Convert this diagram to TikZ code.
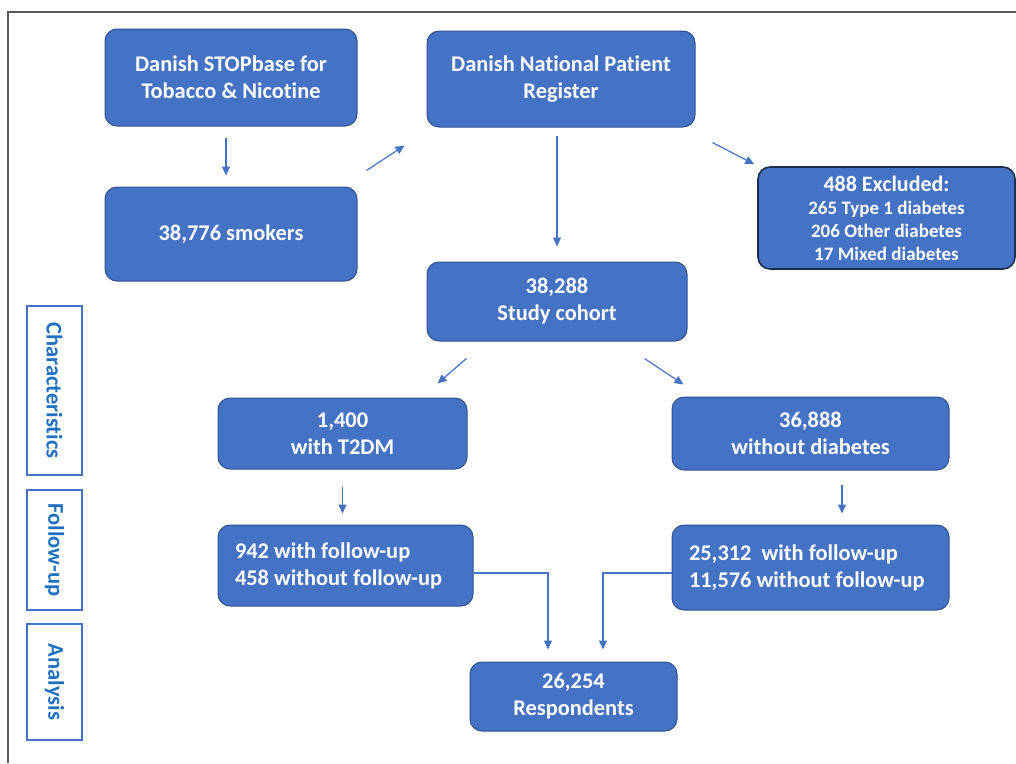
\documentclass[tikz,border=0pt]{standalone}
\usepackage{fontspec}
\setmainfont[Ligatures=NoCommon]{Carlito}
\usepackage{tikz}
\usetikzlibrary{positioning, arrows.meta, calc}
\definecolor{boxblue}{RGB}{68,114,196}
\definecolor{boxedge}{RGB}{47,82,143}
\definecolor{exedge}{RGB}{31,45,79}
\definecolor{phasetext}{RGB}{31,112,192}
\definecolor{framegray}{RGB}{89,89,89}
\tikzset{
  % --- flow chart boxes (blue, white bold text) ---
  flowbox/.style={
    draw=boxedge, fill=boxblue, text=white, rounded corners=12pt,
    font=\bfseries\fontsize{22.4}{27}\selectfont, align=center,
    inner sep=4pt, line width=1pt,
  },
  exclbox/.style={flowbox, draw=exedge, line width=1.6pt,
    font=\bfseries\fontsize{19}{23}\selectfont},
  % --- phase labels on the left (rotated text) ---
  phasebox/.style={draw=boxblue, fill=white, text=phasetext, rotate=-90,
    font=\bfseries\fontsize{22.5}{24}\selectfont, minimum height=55pt,
    inner sep=2pt, line width=1.2pt},
  % --- connectors ---
  flow/.style={-{Triangle[length=9pt, width=8pt]}, draw=boxblue, line width=1.2pt},
  frameline/.style={draw=framegray, line width=1.2pt},
}

\begin{document}
\begin{tikzpicture}[x=1pt, y=-1pt]
    \useasboundingbox (0,0) rectangle (1016,763);
    % ---- Frame (top and left only) ----
    \draw[frameline] (8,763) -- (8,12) -- (1016,12);

    % ---- Sources ----
    \node[flowbox, minimum width=252pt, minimum height=97pt] (stop) at (231,77.5)
      {Danish STOPbase for\\Tobacco \& Nicotine};
    \node[flowbox, minimum width=252pt, minimum height=94pt] (smokers) at (231,234)
      {38,776 smokers};
    \node[flowbox, minimum width=268pt, minimum height=96pt] (npr) at (561,79)
      {Danish National Patient\\Register};
    \node[exclbox, minimum width=257pt, minimum height=102pt] (excl) at (886.5,218)
      {{\fontsize{22}{25}\selectfont 488 Excluded:}\\265 Type 1 diabetes\\206 Other diabetes\\17 Mixed diabetes};

    % ---- Cohort and its two arms ----
    \node[flowbox, minimum width=260pt, minimum height=79pt] (cohort) at (557,301.5)
      {38,288\\Study cohort};
    \node[flowbox, minimum width=249pt, minimum height=71pt] (t2dm) at (342.5,433.5)
      {1,400\\with T2DM};
    \node[flowbox, minimum width=277pt, minimum height=73pt] (nodiab) at (810.5,433.5)
      {36,888\\without diabetes};
    \node[flowbox, align=flush left, text width=221pt, minimum width=255pt, minimum height=81pt] (fut2) at (345.5,565.5)
      {942 with follow-up\\458 without follow-up};
    \node[flowbox, align=flush left, text width=243pt, minimum width=277pt, minimum height=85pt] (funo) at (810.5,567.5)
      {25,312\ \ with follow-up\\11,576 without follow-up};
    \node[flowbox, minimum width=207pt, minimum height=69pt] (resp) at (573.5,696.5)
      {26,254\\Respondents};

    % ---- Phase labels ----
    \node[phasebox, minimum width=169pt] (charac) at (54.5,390.5) {Characteristics};
    \node[phasebox, minimum width=120pt] (follow) at (54.5,550) {Follow-up};
    \node[phasebox, minimum width=116pt] (analysis) at (54.5,682) {Analysis};

    % ---- Connectors ----
    \draw[flow, shorten <=11pt, shorten >=11pt] ([xshift=-5pt]stop.south) -- ([xshift=-5pt]smokers.north);
    \draw[flow] ($(smokers.north east)+(9,-16)$) -- ($(npr.south west)+(-22,18)$);
    \draw[flow, shorten <=8pt, shorten >=15pt] (cohort.north |- npr.south) -- (cohort.north);
    \draw[flow] ($(npr.south east)+(17,15)$) -- ($(excl.north west)+(-3,-2)$);
    \draw[flow] ($(cohort.south west)+(40,17)$) -- ($(t2dm.north east)+(-30,-14)$);
    \draw[flow] ($(cohort.south east)+(-43,17)$) -- ($(nodiab.north west)+(12,-12)$);
    \draw[flow, shorten <=17pt, shorten >=11pt] (t2dm.south) -- (fut2.north -| t2dm.south);
    \draw[flow, shorten <=14pt, shorten >=11pt] ([xshift=31.5pt]nodiab.south) -- ([xshift=31.5pt]funo.north);
    \draw[flow, shorten >=12pt] ([yshift=-7.5pt]fut2.east) -| ([xshift=-25.5pt]resp.north);
    \draw[flow, shorten >=12pt] ([yshift=-5.5pt]funo.west) -| ([xshift=29.5pt]resp.north);
\end{tikzpicture}
\end{document}
